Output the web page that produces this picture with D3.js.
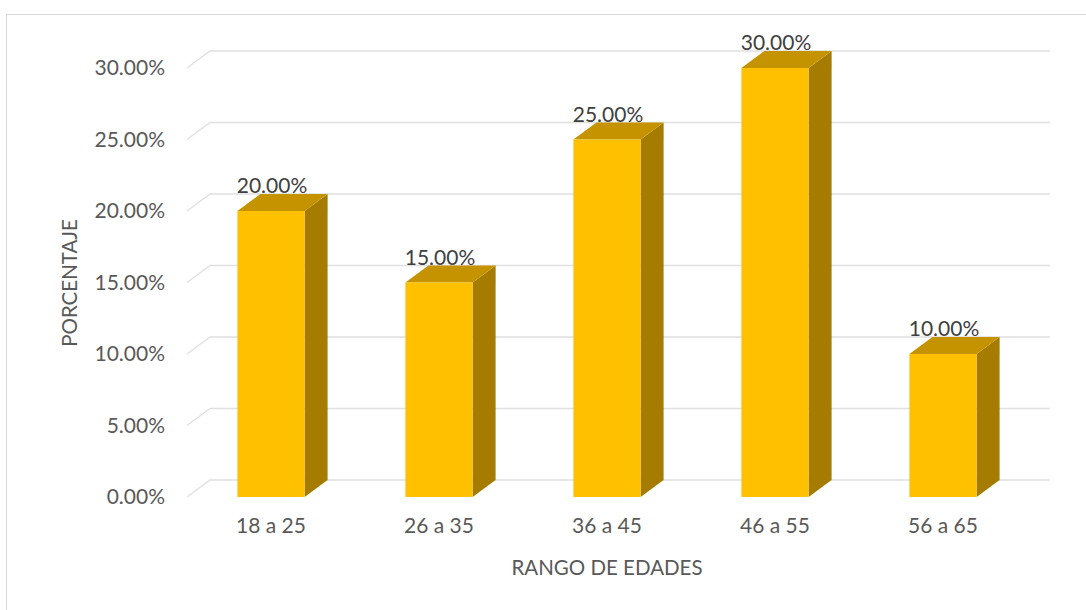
<!DOCTYPE html>
<html>
<head>
<meta charset="utf-8">
<script src="https://cdn.jsdelivr.net/npm/d3@7"></script>
<style>
  body { margin: 0; background: #fff; }
  text { font-family: Lato, "Open Sans", sans-serif; }
</style>
</head>
<body>
<div id="chart"></div>
<script>
const categories = ["18 a 25", "26 a 35", "36 a 45", "46 a 55", "56 a 65"];
const values = [0.20, 0.15, 0.25, 0.30, 0.10];
const yTicks = [0, 0.05, 0.10, 0.15, 0.20, 0.25, 0.30];

const width = 1086, height = 610;
const depth = {dx: 23, dy: 17};

const svg = d3.select("#chart")
    .append("svg")
    .attr("width", width)
    .attr("height", height);

// chart border
svg.append("rect")
    .attr("x", 6.5)
    .attr("y", 14.5)
    .attr("width", width)
    .attr("height", height)
    .attr("fill", "none")
    .attr("stroke", "#d9d9d9");

const xScale = d3.scaleBand()
    .domain(categories)
    .range([187, 1027])
    .paddingInner(0.6)
    .paddingOuter(0.3);

const yScale = d3.scaleLinear()
    .domain([0, 0.30])
    .range([497, 68]);

const fmt = d3.format(".2%");

// gridlines: floor diagonal then back wall
svg.append("g")
    .selectAll("path")
    .data(yTicks)
    .enter()
    .append("path")
    .attr("d", d => {
        const y = yScale(d);
        return `M187,${y}L${187 + depth.dx},${y - depth.dy}L${1027 + depth.dx},${y - depth.dy}`;
    })
    .attr("fill", "none")
    .attr("stroke", "#e0e0e0")
    .attr("stroke-width", 1.3);

// y tick labels
svg.append("g")
    .selectAll("text")
    .data(yTicks)
    .enter()
    .append("text")
    .attr("x", 165)
    .attr("y", d => yScale(d))
    .attr("dy", "0.35em")
    .attr("text-anchor", "end")
    .attr("fill", "#595959")
    .style("font-size", "21px")
    .text(d => fmt(d));

// 3D bars
const bars = svg.append("g")
    .selectAll("g")
    .data(categories)
    .enter()
    .append("g");

bars.each((cat, i, nodes) => {
    const g = d3.select(nodes[i]);
    const x0 = xScale(cat), x1 = x0 + xScale.bandwidth();
    const yTop = yScale(values[i]), yBot = yScale(0);
    const {dx, dy} = depth;

    // side face
    g.append("path")
        .attr("d", `M${x1},${yTop}L${x1 + dx},${yTop - dy}L${x1 + dx},${yBot - dy}L${x1},${yBot}Z`)
        .attr("fill", "#a67c00");
    // top face
    g.append("path")
        .attr("d", `M${x0},${yTop}L${x0 + dx},${yTop - dy}L${x1 + dx},${yTop - dy}L${x1},${yTop}Z`)
        .attr("fill", "#c59300");
    // front face
    g.append("rect")
        .attr("x", x0)
        .attr("y", yTop)
        .attr("width", x1 - x0)
        .attr("height", yBot - yTop)
        .attr("fill", "#ffc000");

    // data label
    g.append("text")
        .attr("x", (x0 + x1) / 2 + 1)
        .attr("y", yTop - dy - 1)
        .attr("text-anchor", "middle")
        .attr("fill", "#404040")
        .style("font-size", "21px")
        .text(fmt(values[i]));
});

// x category labels
svg.append("g")
    .selectAll("text")
    .data(categories)
    .enter()
    .append("text")
    .attr("x", d => xScale(d) + xScale.bandwidth() / 2)
    .attr("y", 533)
    .attr("text-anchor", "middle")
    .attr("fill", "#595959")
    .style("font-size", "21px")
    .text(d => d);

// axis titles
svg.append("text")
    .attr("x", 607)
    .attr("y", 575)
    .attr("text-anchor", "middle")
    .attr("fill", "#595959")
    .style("font-size", "20.5px")
    .text("RANGO DE EDADES");

svg.append("text")
    .attr("transform", "translate(77,283) rotate(-90)")
    .attr("text-anchor", "middle")
    .attr("fill", "#595959")
    .style("font-size", "20.5px")
    .text("PORCENTAJE");
</script>
</body>
</html>
